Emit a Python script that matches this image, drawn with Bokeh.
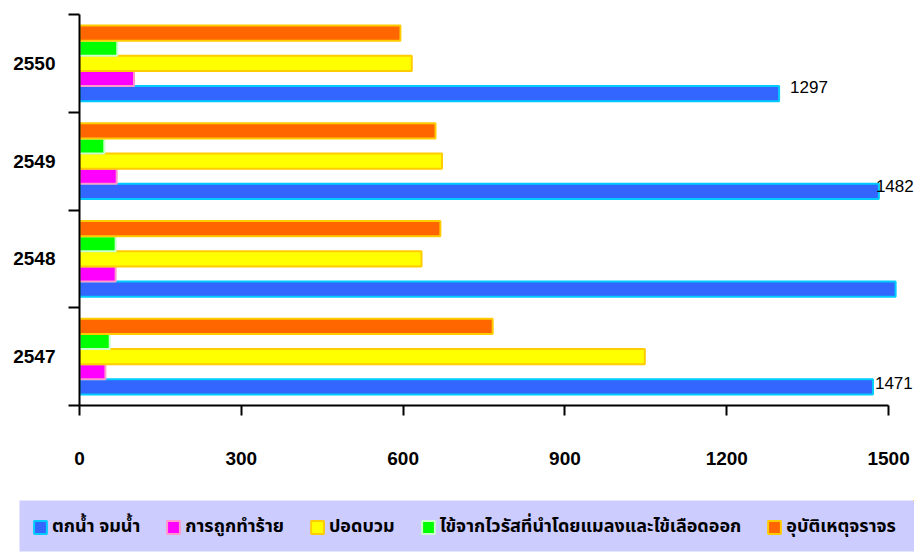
from bokeh.plotting import figure
from bokeh.layouts import column
from bokeh.models import (Range1d, FixedTicker, Legend, LegendItem, Label,
                          ColumnDataSource)
from bokeh.transform import dodge
from bokeh.embed import file_html
from bokeh.resources import INLINE

# Years (Buddhist era) shown on the vertical axis, bottom to top
years = ["2547", "2548", "2549", "2550"]

# Causes of death, in legend order
series_names = [
    "ตกน้ำ จมน้ำ",
    "การถูกทำร้าย",
    "ปอดบวม",
    "ไข้จากไวรัสที่นำโดยแมลงและไข้เลือดออก",
    "อุบัติเหตุจราจร",
]

# Values per year (2547 .. 2550)
drowning = [1471, 1513, 1482, 1297]
assault = [48, 67, 69, 101]
pneumonia = [1048, 634, 672, 616]
vector_fever = [56, 67, 46, 70]
traffic = [766, 669, 660, 595]

# Years whose drowning bar carries a value label
labelled_years = ["2547", "2549", "2550"]

x_ticks = [0, 300, 600, 900, 1200, 1500]

fills = ["#3366FF", "#FF00FF", "#FFFF00", "#00FF00", "#FF6600"]
edges = ["#00CCFF", "#FF99CC", "#FFCC00", "#CCFFCC", "#FFCC00"]
keys = ["drowning", "assault", "pneumonia", "vector_fever", "traffic"]

source = ColumnDataSource(dict(
    y=[i + 0.5 for i in range(len(years))],
    drowning=drowning, assault=assault, pneumonia=pneumonia,
    vector_fever=vector_fever, traffic=traffic,
))

BAR_H = 0.155
offsets = [-2 * BAR_H, -BAR_H, 0.0, BAR_H, 2 * BAR_H]

W, H_CHART, H_LEGEND = 914, 495, 57

p = figure(width=W, height=H_CHART, output_backend="svg", toolbar_location=None,
           x_range=Range1d(0, 1548), y_range=Range1d(0, 4),
           min_border_left=79, min_border_right=0, min_border_top=14,
           min_border_bottom=90)
p.outline_line_color = None
p.xgrid.grid_line_color = None
p.ygrid.grid_line_color = None
p.background_fill_color = "white"
p.border_fill_color = "white"

for k, key in enumerate(keys):
    p.hbar(y=dodge("y", offsets[k]), left=0, right=key, height=BAR_H,
           fill_color=fills[k], line_color=edges[k], line_width=2,
           source=source)

# value labels on the drowning bars
label_dx = [2, -3, 11]
label_dy = [4, 5, 7]
for j, yr in enumerate(labelled_years):
    i = years.index(yr)
    v = drowning[i]
    p.add_layout(Label(x=v, y=i + 0.5 + offsets[0], text=str(v),
                       x_offset=label_dx[j], y_offset=label_dy[j],
                       text_font="Liberation Sans", text_font_size="17px",
                       text_color="black", text_align="left",
                       text_baseline="alphabetic"))

# x axis
xa = p.xaxis[0]
xa.ticker = FixedTicker(ticks=x_ticks, minor_ticks=[])
xa.bounds = (0, 1500)
xa.axis_line_width = 2
xa.axis_line_color = "black"
xa.major_tick_line_width = 2
xa.major_tick_line_color = "black"
xa.major_tick_out = 10
xa.major_tick_in = 0
xa.major_label_standoff = 36
xa.major_label_text_font = "Liberation Sans"
xa.major_label_text_font_style = "bold"
xa.major_label_text_font_size = "19px"
xa.major_label_text_color = "black"

# y axis: labels centred on each year, ticks on the year boundaries
ya = p.yaxis[0]
ya.ticker = FixedTicker(ticks=[i + 0.5 for i in range(len(years))],
                        minor_ticks=list(range(len(years) + 1)))
ya.major_label_overrides = {i + 0.5: yr for i, yr in enumerate(years)}
ya.axis_line_width = 2
ya.axis_line_color = "black"
ya.major_tick_out = 0
ya.major_tick_in = 0
ya.minor_tick_out = 11
ya.minor_tick_in = 0
ya.minor_tick_line_width = 2
ya.minor_tick_line_color = "black"
ya.major_label_standoff = 13
ya.major_label_text_font = "Liberation Sans"
ya.major_label_text_font_style = "bold"
ya.major_label_text_font_size = "19px"
ya.major_label_text_color = "black"

# legend strip underneath the chart: its frame is the lavender band,
# and its ranges keep the bars out of view
lg = figure(width=W, height=H_LEGEND, output_backend="svg", toolbar_location=None,
            x_range=Range1d(-2, -1), y_range=Range1d(-2, -1),
            min_border_left=19, min_border_right=0, min_border_top=5,
            min_border_bottom=1, x_axis_location=None, y_axis_location=None)
lg.outline_line_color = None
lg.grid.visible = False
lg.border_fill_color = "white"
lg.background_fill_color = "#CCCCFF"

for fig in (p, lg):
    try:
        fig.frame_align = False
    except AttributeError:
        pass

items = []
for k, (name, key) in enumerate(zip(series_names, keys)):
    r = lg.hbar(y="y", left=0, right=key, height=BAR_H, source=source,
                fill_color=fills[k], line_color=edges[k], line_width=2)
    items.append(LegendItem(label=name, renderers=[r]))

legend = Legend(
    items=items, orientation="horizontal", location=(13, 11),
    margin=0, padding=0, background_fill_alpha=0.0,
    border_line_color=None, glyph_width=16, glyph_height=16,
    label_height=20, label_standoff=4, spacing=25,
    label_text_font="Noto Sans Thai, Noto Sans, sans-serif",
    label_text_font_style="bold", label_text_font_size="18px",
    label_text_color="black",
)
lg.add_layout(legend, "center")

layout = column(p, lg, spacing=0)
open("out.html", "w").write(file_html(layout, INLINE))
